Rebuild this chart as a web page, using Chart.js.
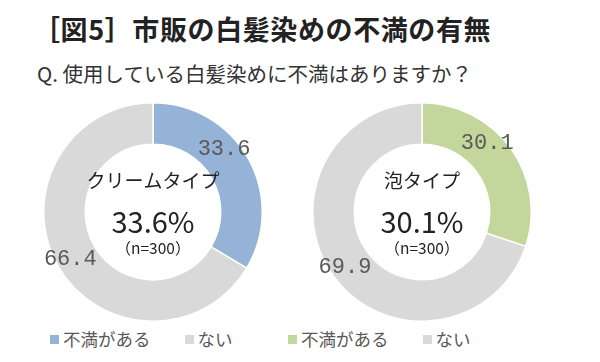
<!DOCTYPE html>
<html>
<head>
<meta charset="utf-8">
<script src="https://cdn.jsdelivr.net/npm/chart.js@4.4.0/dist/chart.umd.min.js"></script>
<style>
  body { margin: 0; width: 600px; height: 362px; background: #fff; position: relative; overflow: hidden;
         font-family: "Noto Sans CJK JP", "Noto Sans", sans-serif; }
  .abs { position: absolute; }
  #title { left: 33px; top: 9px; font-size: 27px; font-weight: bold; color: #222; white-space: nowrap; letter-spacing: 0.6px; }
  #sub { left: 37px; top: 58px; font-size: 20.5px; color: #333; white-space: nowrap; }
  .legend { top: 326px; font-size: 17.5px; color: #595959; white-space: nowrap; }
  .legend span.box { display: inline-block; width: 9px; height: 9px; margin-right: 4px; vertical-align: 2px; }
  .legend span.item { margin-right: 34px; }
  canvas { position: absolute; }
</style>
</head>
<body>
<div id="title" class="abs">［図5］市販の白髪染めの不満の有無</div>
<div id="sub" class="abs">Q. 使用している白髪染めに不満はありますか？</div>
<canvas id="c1" width="220" height="220" style="left:43px;top:102px;"></canvas>
<canvas id="c2" width="220" height="220" style="left:312px;top:102px;"></canvas>
<div id="leg1" class="abs legend" style="left:50px;"></div>
<div id="leg2" class="abs legend" style="left:288px;"></div>
<script>
var categories = ["不満がある", "ない"];
var creamValues = [33.6, 66.4];
var foamValues = [30.1, 69.9];
var chartNames = ["クリームタイプ", "泡タイプ"];
var sampleSizes = ["（n=300）", "（n=300）"];

var creamColors = ["#95b3d7", "#d9d9d9"];
var foamColors = ["#c3d69b", "#d9d9d9"];

// labels on the ring, plus the text in the hole
var ringText = {
  id: "ringText",
  afterDatasetsDraw: function (chart, args, opts) {
    var ctx = chart.ctx;
    var meta = chart.getDatasetMeta(0);
    var values = chart.data.datasets[0].data;
    ctx.save();
    ctx.fillStyle = "#595959";
    ctx.font = "22px 'Liberation Mono', 'DejaVu Sans Mono', monospace";
    ctx.textAlign = "center";
    ctx.textBaseline = "middle";
    meta.data.forEach(function (arc, i) {
      var p = arc.getProps(["x", "y", "startAngle", "endAngle", "outerRadius"], true);
      var a = p.startAngle + (p.endAngle - p.startAngle) * opts.frac[i];
      var r = p.outerRadius * 0.87;
      ctx.fillText(values[i].toFixed(1), p.x + Math.cos(a) * r, p.y + Math.sin(a) * r);
    });
    var cx = meta.data[0].x, cy = meta.data[0].y;
    ctx.fillStyle = "#222";
    ctx.font = "19px 'Noto Sans CJK JP'";
    ctx.fillText(opts.name, cx, cy - 31);
    ctx.font = "29px 'Noto Sans CJK JP'";
    ctx.fillText(values[0].toFixed(1) + "%", cx, cy + 10);
    ctx.font = "15.5px 'Noto Sans CJK JP'";
    ctx.fillText(opts.n, cx, cy + 36);
    ctx.restore();
  }
};

function makeDonut(id, values, colors, name, n) {
  return new Chart(document.getElementById(id).getContext("2d"), {
    type: "doughnut",
    data: {
      labels: categories,
      datasets: [{
        data: values,
        backgroundColor: colors,
        borderColor: "#ffffff",
        borderWidth: 1.5
      }]
    },
    options: {
      responsive: false,
      animation: false,
      cutout: "62%",
      plugins: {
        legend: { display: false },
        tooltip: { enabled: false },
        ringText: { frac: [0.4, 0.5], name: name, n: n }
      }
    },
    plugins: [ringText]
  });
}

makeDonut("c1", creamValues, creamColors, chartNames[0], sampleSizes[0]);
makeDonut("c2", foamValues, foamColors, chartNames[1], sampleSizes[1]);

function buildLegend(id, colors) {
  var el = document.getElementById(id);
  categories.forEach(function (c, i) {
    var s = document.createElement("span");
    s.className = "item";
    s.innerHTML = '<span class="box" style="background:' + colors[i] + '"></span>' + c;
    el.appendChild(s);
  });
}
buildLegend("leg1", creamColors);
buildLegend("leg2", foamColors);
</script>
</body>
</html>
